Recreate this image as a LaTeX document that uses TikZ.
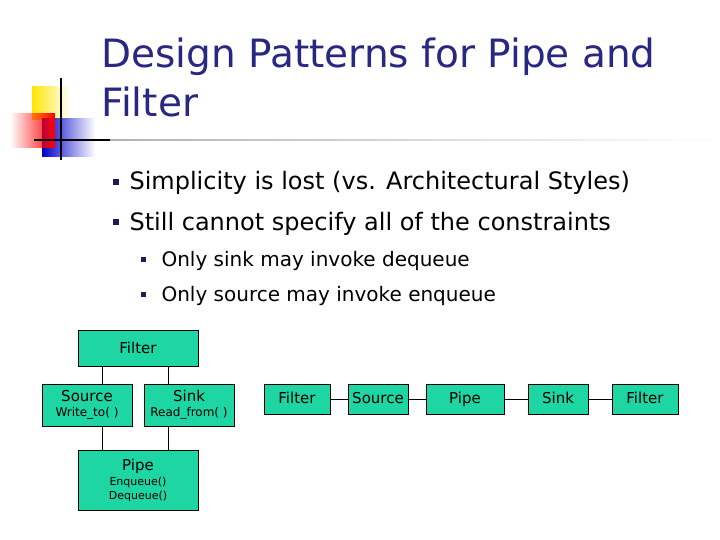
\documentclass[tikz,border=0pt]{standalone}
\usepackage{fontspec}
\setmainfont{DejaVu Sans}
\usetikzlibrary{fadings}
\definecolor{boxc}{RGB}{30,214,163}
\definecolor{titc}{RGB}{40,40,130}
\tikzset{box/.style={draw=black,fill=boxc,line width=0.8pt,inner sep=0pt},
 bul/.style={fill=titc!70!black,minimum size=6pt,inner sep=0pt}}
\begin{document}
\begin{tikzpicture}[x=1pt,y=-1pt]
\useasboundingbox[fill=white] (0,0) rectangle (720,540);
% decoration
\fill[yellow!90!orange,path fading=east] (32,86) rectangle (70,120);
\fill[blue!80!black,path fading=east] (42,118) rectangle (95,157);
\fill[red,path fading=west] (10,113) rectangle (55,148);
\draw[line width=1.5pt] (61,78) -- (61,160);
\draw[line width=1.5pt] (34,140) -- (110,140);
\shade[left color=gray!60,right color=white] (110,139.3) rectangle (720,140.7);
\node[anchor=base west,text=titc,font=\fontsize{39}{41}\selectfont] (t1) at (98,68) {Design Patterns for Pipe and};
\node[anchor=base west,text=titc,font=\fontsize{39}{41}\selectfont] (t2) at (98,117) {Filter};
% bullets
\node[bul] (b1) at (116,182) {};
\node[bul] (b2) at (116,222) {};
\node[anchor=base west,font=\fontsize{24}{26}\selectfont] (l1) at (126,190) {Simplicity is lost (vs. Architectural Styles)};
\node[anchor=base west,font=\fontsize{24}{26}\selectfont] (l2) at (126,230) {Still cannot specify all of the constraints};
\node[bul,minimum size=5pt] (b3) at (143,259) {};
\node[bul,minimum size=5pt] (b4) at (143,294) {};
\node[anchor=base west,font=\fontsize{20}{22}\selectfont] (l3) at (158,266) {Only sink may invoke dequeue};
\node[anchor=base west,font=\fontsize{20}{22}\selectfont] (l4) at (158,301) {Only source may invoke enqueue};
% left diagram
\node[box,minimum width=120pt,minimum height=36pt,font=\fontsize{15}{17}\selectfont] (f) at (138,348) {Filter};
\node[box,minimum width=90pt,minimum height=42pt,align=center,font=\fontsize{15}{17}\selectfont] (so) at (87,405) {Source\\[-2pt]{\fontsize{12}{13}\selectfont Write\_to( )}};
\node[box,minimum width=90pt,minimum height=42pt,align=center,font=\fontsize{15}{17}\selectfont] (si) at (189,405) {Sink\\[-2pt]{\fontsize{12}{13}\selectfont Read\_from( )}};
\node[box,minimum width=120pt,minimum height=60pt,align=center,font=\fontsize{15}{17}\selectfont] (p) at (138,480) {Pipe\\[-2pt]{\fontsize{11}{12}\selectfont Enqueue()}\\[-3pt]{\fontsize{11}{12}\selectfont Dequeue()}};
\draw (f.south -| 102,0) -- (so.north -| 102,0);
\draw (f.south -| 168,0) -- (si.north -| 168,0);
\draw (so.south -| 102,0) -- (p.north -| 102,0);
\draw (si.south -| 168,0) -- (p.north -| 168,0);
% right chain
\tikzset{cb/.style={box,minimum height=30pt,text height=11pt,text depth=3pt,font=\fontsize{15}{17}\selectfont}}
\node[cb,minimum width=66pt] (c1) at (297,399) {Filter};
\node[cb,minimum width=60pt] (c2) at (378,399) {Source};
\node[cb,minimum width=78pt] (c3) at (465,399) {Pipe};
\node[cb,minimum width=60pt] (c4) at (558,399) {Sink};
\node[cb,minimum width=66pt] (c5) at (645,399) {Filter};
\draw (c1) -- (c2); \draw (c2) -- (c3); \draw (c3) -- (c4); \draw (c4) -- (c5);
\end{tikzpicture}
\end{document}
